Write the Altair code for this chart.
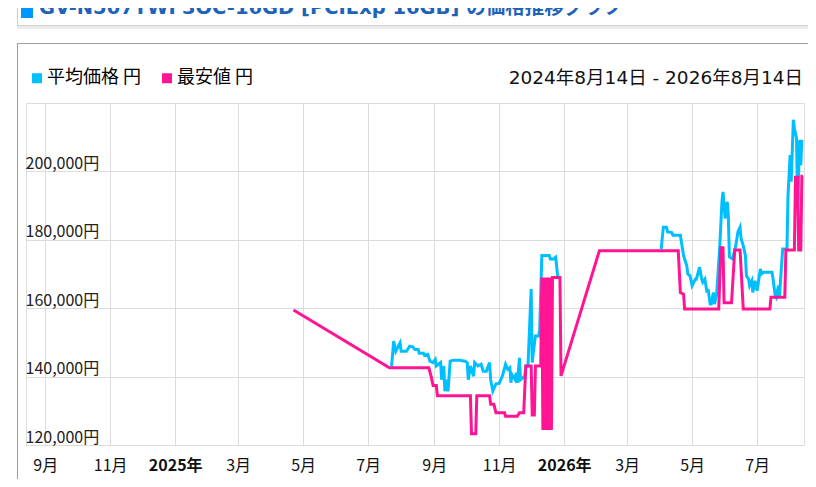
import altair as alt
import pandas as pd

# ---- data ----
avg1_dates = ["2025-07-23","2025-07-25","2025-07-27","2025-07-31","2025-08-01","2025-08-06","2025-08-09",
              "2025-08-12","2025-08-14","2025-08-17","2025-08-18","2025-08-22","2025-08-23","2025-08-26",
              "2025-08-28","2025-08-31","2025-09-02","2025-09-03","2025-09-07","2025-09-08","2025-09-10",
              "2025-09-11","2025-09-13","2025-09-14","2025-09-16","2025-09-19","2025-09-25","2025-09-30",
              "2025-10-02","2025-10-03","2025-10-05","2025-10-08","2025-10-09","2025-10-12","2025-10-15",
              "2025-10-17","2025-10-20","2025-10-23","2025-10-24","2025-10-26","2025-10-29","2025-11-01",
              "2025-11-04","2025-11-07","2025-11-09","2025-11-11","2025-11-12","2025-11-13","2025-11-16",
              "2025-11-17","2025-11-18","2025-11-19","2025-11-20","2025-11-21","2025-11-25","2025-11-26",
              "2025-11-28","2025-12-01","2025-12-02","2025-12-03","2025-12-05","2025-12-08","2025-12-09",
              "2025-12-11","2025-12-18","2025-12-19","2025-12-22","2025-12-24","2025-12-26"]
avg1_values = [143000,150400,147400,149900,147400,147400,148900,
               148700,147900,147900,146800,146800,146200,146500,
               144500,144100,145000,143100,144100,139100,143100,
               135700,139100,135700,144500,144800,144800,144500,
               144100,139100,143100,140100,144100,143100,143600,
               141600,141600,144100,139100,135800,137900,138000,
               140200,143600,142100,142600,138200,140600,139100,
               141100,138200,141600,145500,139100,140100,143100,
               143100,165600,144100,147000,151900,151900,153800,
               175400,175400,174400,174400,174900,169000]

avg2_dates = ["2026-04-02","2026-04-04","2026-04-07","2026-04-08","2026-04-12","2026-04-13","2026-04-20",
              "2026-04-21","2026-04-23","2026-04-24","2026-04-26","2026-04-27","2026-04-29","2026-05-01",
              "2026-05-04","2026-05-05","2026-05-08","2026-05-10","2026-05-11","2026-05-13","2026-05-15",
              "2026-05-16","2026-05-18","2026-05-19","2026-05-21","2026-05-22","2026-05-24","2026-05-25",
              "2026-05-27","2026-05-29","2026-05-30","2026-06-01","2026-06-02","2026-06-03","2026-06-04",
              "2026-06-05","2026-06-08","2026-06-11","2026-06-13","2026-06-15","2026-06-16","2026-06-18",
              "2026-06-20","2026-06-21","2026-06-23","2026-06-24","2026-06-26","2026-06-27","2026-06-29",
              "2026-07-01","2026-07-02","2026-07-04","2026-07-05","2026-07-07","2026-07-15","2026-07-16",
              "2026-07-18","2026-07-19","2026-07-21","2026-07-22","2026-07-25","2026-07-29","2026-07-30",
              "2026-08-01","2026-08-02","2026-08-04","2026-08-05","2026-08-07","2026-08-08","2026-08-10",
              "2026-08-11","2026-08-12"]
avg2_values = [177300,183700,183700,182300,182100,181300,181300,
               179300,175400,174400,172400,170000,169500,166600,
               168500,168500,172000,168500,167600,168500,164600,
               165600,161200,161200,164600,161200,164100,168500,
               178300,191100,194000,186200,190100,191100,187000,
               175000,174400,178300,182300,183700,180300,178300,
               175400,169500,168500,166600,168000,164600,168000,
               165100,167100,171500,170000,170500,170500,168500,
               163600,163100,166600,163600,177300,177300,193000,
               204800,197000,215100,212600,209700,190100,209200,
               201800,209200]

min_dates = ["2025-04-22","2025-07-21","2025-08-27","2025-08-29","2025-08-31","2025-09-03","2025-09-04",
             "2025-10-05","2025-10-06","2025-10-10","2025-10-11","2025-10-23","2025-10-24","2025-10-27",
             "2025-10-29","2025-11-06","2025-11-07","2025-11-18","2025-11-20","2025-11-24","2025-11-26",
             "2025-12-01","2025-12-02","2025-12-04","2025-12-05","2025-12-10","2025-12-11","2025-12-12",
             "2025-12-13","2025-12-14","2025-12-15","2025-12-16","2025-12-17","2025-12-18","2025-12-19",
             "2025-12-20","2025-12-21","2025-12-28","2025-12-29","2026-02-03","2026-04-18","2026-04-20",
             "2026-04-23","2026-04-24","2026-05-26","2026-05-28","2026-05-30","2026-05-31","2026-06-07",
             "2026-06-10","2026-06-15","2026-06-18","2026-07-13","2026-07-14","2026-07-27","2026-07-28",
             "2026-08-05","2026-08-06","2026-08-08","2026-08-09","2026-08-11","2026-08-12","2026-08-13"]
min_values = [159500,142600,142600,140200,137400,137400,134400,
              134400,123300,123300,134400,134400,131900,131900,
              129400,129400,128400,128400,129400,129400,143100,
              143100,128800,128800,143100,143100,169000,124400,
              169000,124400,169000,124400,169000,124400,169000,
              124400,169000,169000,140200,176800,176800,164600,
              164100,159800,159800,177700,177700,161600,161600,
              177000,177000,159800,159800,163200,163200,177000,
              177000,198300,198300,177000,177000,198600,198600]

series_names = ["平均価格 円", "最安値 円"]
series_colors = ["#00bfff", "#ff1493"]

title_text = "GV-N507TWF3OC-16GD [PCIExp 16GB] の価格推移グラフ"
range_text = "2024年8月14日 - 2026年8月14日"

tick_dates = ["2024-09-01","2024-11-01","2025-01-01","2025-03-01","2025-05-01","2025-07-01",
              "2025-09-01","2025-11-01","2026-01-01","2026-03-01","2026-05-01","2026-07-01"]
y_ticks = [120000, 140000, 160000, 180000, 200000, 220000]

# ---- table ----
rows = []
for d, v in zip(avg1_dates, avg1_values):
    rows.append({"date": d + "T00:00:00", "price": v, "series": series_names[0], "seg": "a1"})
for d, v in zip(avg2_dates, avg2_values):
    rows.append({"date": d + "T00:00:00", "price": v, "series": series_names[0], "seg": "a2"})
for d, v in zip(min_dates, min_values):
    rows.append({"date": d + "T00:00:00", "price": v, "series": series_names[1], "seg": "m"})
df = pd.DataFrame(rows)

FONT = "Noto Sans CJK JP"
WIDE = "'DejaVu Sans', 'Noto Sans CJK JP'"
W, H = 778, 342

tick_dt = [alt.DateTime(year=int(t[:4]), month=int(t[5:7]), date=1) for t in tick_dates]

x_enc = alt.X(
    "date:T",
    scale=alt.Scale(domain=[alt.DateTime(year=2024, month=8, date=14),
                            alt.DateTime(year=2026, month=8, date=14)], nice=False),
    axis=alt.Axis(
        values=tick_dt, title=None, ticks=False, domain=False,
        labelExpr="month(datum.value)==0 ? year(datum.value)+'年' : (month(datum.value)+1)+'月'",
        labelFontWeight={"expr": "month(datum.value)==0 ? 'bold' : 'normal'"},
        labelFont=FONT, labelFontSize=16, labelColor="#111", labelPadding=12,
        gridColor="#dcdcdc", gridWidth=1, labelFlush=False,
    ),
)
y_enc = alt.Y(
    "price:Q",
    scale=alt.Scale(domain=[120000, 220000], nice=False, zero=False),
    axis=alt.Axis(
        values=y_ticks, title=None, ticks=False, domain=False,
        labelExpr="datum.value < 220000 ? format(datum.value, ',') + '円' : ''",
        labelAlign="left", labelBaseline="bottom", labelPadding=1, labelOffset=0,
        labelFont=FONT, labelFontSize=16, labelColor="#222",
        gridColor="#dcdcdc", gridWidth=1,
    ),
)
color_enc = alt.Color(
    "series:N",
    scale=alt.Scale(domain=series_names, range=series_colors),
    legend=alt.Legend(
        title=None, orient="none", legendX=2, legendY=-34, direction="horizontal",
        symbolType="square", symbolSize=25, symbolStrokeWidth=5,
        labelFont=FONT, labelFontSize=18, labelColor="#000", labelOffset=1,
        columnPadding=12,
    ),
)

base = alt.Chart(df)
avg_line = base.transform_filter(alt.datum.series == series_names[0]).mark_line(
    strokeWidth=3).encode(x=x_enc, y=y_enc, color=color_enc, detail="seg:N")
min_line = base.transform_filter(alt.datum.series == series_names[1]).mark_line(
    strokeWidth=3).encode(x=x_enc, y=y_enc, color=color_enc, detail="seg:N")

one = pd.DataFrame({"t": [title_text], "r": [range_text]})
deco = alt.Chart(one)

range_lbl = deco.mark_text(align="right", baseline="middle", font=WIDE, fontSize=18.5,
                           color="#111").encode(x=alt.value(777), y=alt.value(-25), text="r:N")
title_lbl = deco.mark_text(align="left", baseline="alphabetic", font=WIDE, fontSize=19.5,
                           fontWeight="bold", color="#1e63b8").encode(
    x=alt.value(13), y=alt.value(-89), text="t:N")
title_bar = deco.mark_rect(color="#0096ff").encode(
    x=alt.value(-5), x2=alt.value(7), y=alt.value(-103), y2=alt.value(-85))
title_shadow = deco.mark_rule(color="#ebebeb", strokeWidth=3).encode(
    x=alt.value(-9), x2=alt.value(800), y=alt.value(-75.5), y2=alt.value(-75.5))
title_bottom = deco.mark_rule(color="#cfcfcf", strokeWidth=1).encode(
    x=alt.value(-9), x2=alt.value(800), y=alt.value(-77.5), y2=alt.value(-77.5))
title_left = deco.mark_rule(color="#cfcfcf", strokeWidth=1).encode(
    x=alt.value(-8.5), x2=alt.value(-8.5), y=alt.value(-103), y2=alt.value(-77.5))
frame_top = deco.mark_rule(color="#a0a0a0", strokeWidth=1).encode(
    x=alt.value(-9), x2=alt.value(800), y=alt.value(-59.5), y2=alt.value(-59.5))
frame_left = deco.mark_rule(color="#a0a0a0", strokeWidth=1).encode(
    x=alt.value(-8.5), x2=alt.value(-8.5), y=alt.value(-59.5), y2=alt.value(400))

chart = alt.layer(
    title_shadow, title_bottom, title_left, title_bar, title_lbl, frame_top, frame_left,
    avg_line, min_line, range_lbl,
).properties(
    width=W, height=H,
    padding={"left": 18, "top": 95, "right": 4, "bottom": 34},
    autosize=alt.AutoSizeParams(type="none"),
).configure_view(strokeWidth=0).configure(background="white")

chart.save("out.html", embed_options={"renderer": "svg", "actions": False})
